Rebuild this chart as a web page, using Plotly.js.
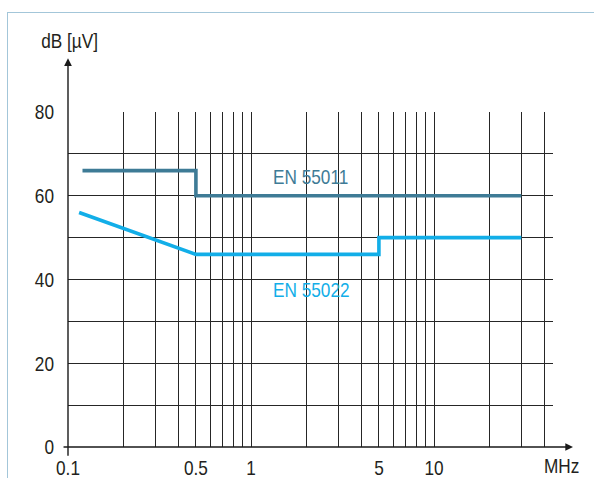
<!DOCTYPE html>
<html>
<head>
<meta charset="utf-8">
<script src="https://cdn.plot.ly/plotly-3.0.1.min.js"></script>
<style>
  html, body { margin: 0; padding: 0; background: #ffffff; }
  #wrap { position: relative; width: 594px; height: 478px; overflow: hidden; }
  #frame { position: absolute; left: 7px; top: 12px; right: -4px; bottom: -4px;
           border-left: 1.5px solid #a3c6d9; border-top: 1.5px solid #a3c6d9; }
  #chart { position: absolute; left: 0; top: 0; width: 594px; height: 478px; }
</style>
</head>
<body>
<div id="wrap">
  <div id="frame"></div>
  <div id="chart"></div>
</div>
<script>
// Frequency grid (MHz) and the labels printed under it
const gridFreqs = [0.1, 0.2, 0.3, 0.4, 0.5, 0.6, 0.7, 0.8, 0.9,
                   1, 2, 3, 4, 5, 6, 7, 8, 9,
                   10, 20, 30, 40];
const labelledFreqs = [0.1, 0.5, 1, 5, 10];

// Level grid (dB µV)
const levelTicks = [0, 10, 20, 30, 40, 50, 60, 70, 80];
const labelledLevels = [0, 20, 40, 60, 80];

// Limit lines
const en55011Freq = [0.12, 0.5, 0.5, 30];
const en55011Level = [66, 66, 60, 60];
const en55022Freq = [0.115, 0.5, 5, 5, 30];
const en55022Level = [56, 46, 46, 50, 50];

const FONT = 'Liberation Sans, Arial, Helvetica, sans-serif';
const FS = 21;
const NARROW = 0.82;   // horizontal squeeze for a condensed look
const TEXT = '#231f20';
const GRID = '#262626';
const C11 = '#3e7b96';
const C22 = '#12aee8';

const freqText = gridFreqs.map(f => labelledFreqs.includes(f) ? String(f) : '');
const levelText = levelTicks.map(v => labelledLevels.includes(v) ? String(v) : '');

const traces = [
  { x: en55011Freq, y: en55011Level, mode: 'lines', cliponaxis: false,
    line: { color: C11, width: 3.6 }, hoverinfo: 'skip' },
  { x: en55022Freq, y: en55022Level, mode: 'lines', cliponaxis: false,
    line: { color: C22, width: 3.6 }, hoverinfo: 'skip' }
];

const layout = {
  width: 594, height: 478, autosize: false,
  margin: { l: 68, r: 41, t: 112, b: 31, pad: 0 },
  paper_bgcolor: 'rgba(0,0,0,0)', plot_bgcolor: 'rgba(0,0,0,0)',
  showlegend: false,
  font: { family: FONT, size: FS, color: TEXT },
  xaxis: {
    type: 'log', range: [-1, 1.6503], fixedrange: true,
    tickmode: 'array', tickvals: gridFreqs, ticktext: freqText,
    showgrid: true, gridcolor: GRID, gridwidth: 1,
    zeroline: false, showline: false, ticks: '',
    ticklabelstandoff: 6,
    tickfont: { family: FONT, size: FS, color: TEXT }
  },
  yaxis: {
    range: [0, 80], fixedrange: true,
    tickmode: 'array', tickvals: levelTicks, ticktext: levelText,
    showgrid: true, gridcolor: GRID, gridwidth: 1,
    zeroline: false, showline: false, ticks: '',
    ticklabelstandoff: 13,
    tickfont: { family: FONT, size: FS, color: TEXT }
  },
  annotations: [
    // vertical axis with arrow
    { xref: 'paper', yref: 'paper', x: 0, y: 1.1603, text: '',
      showarrow: true, ax: 0, ay: 399, arrowhead: 2, arrowsize: 1.1,
      arrowwidth: 1.4, arrowcolor: '#1a1a1a', standoff: 0, startstandoff: 0 },
    // horizontal axis with arrow
    { xref: 'paper', yref: 'paper', x: 1.0413, y: 0, text: '',
      showarrow: true, ax: -511, ay: 0, arrowhead: 2, arrowsize: 1.1,
      arrowwidth: 1.4, arrowcolor: '#1a1a1a', standoff: 0, startstandoff: 0 },
    { xref: 'paper', yref: 'paper', x: 0.0035, y: 1.214, text: 'dB [µV]',
      showarrow: false, xanchor: 'center', yanchor: 'middle', align: 'center',
      font: { family: FONT, size: FS, color: TEXT } },
    { xref: 'paper', yref: 'paper', x: 1.0165, y: -0.0546, text: 'MHz',
      showarrow: false, xanchor: 'center', yanchor: 'middle', align: 'center',
      font: { family: FONT, size: FS, color: TEXT } },
    { xref: 'x', yref: 'y', x: Math.log10(1.29), y: 64.6, text: 'EN 55011',
      showarrow: false, xanchor: 'left', yanchor: 'middle', align: 'left',
      font: { family: FONT, size: FS, color: C11 } },
    { xref: 'x', yref: 'y', x: Math.log10(1.29), y: 37.5, text: 'EN 55022',
      showarrow: false, xanchor: 'left', yanchor: 'middle', align: 'left',
      font: { family: FONT, size: FS, color: C22 } }
  ]
};

Plotly.newPlot('chart', traces, layout, { staticPlot: true, displayModeBar: false })
  .then(function (gd) {
    // squeeze every label horizontally about its own anchor point
    gd.querySelectorAll('svg text').forEach(function (el) {
      if (!el.textContent.trim()) return;
      const x = parseFloat(el.getAttribute('x') || 0);
      const y = parseFloat(el.getAttribute('y') || 0);
      const t = el.getAttribute('transform') || '';
      el.setAttribute('transform',
        t + ' translate(' + x + ',' + y + ') scale(' + NARROW + ',1) translate(' + (-x) + ',' + (-y) + ')');
    });
  });
</script>
</body>
</html>
